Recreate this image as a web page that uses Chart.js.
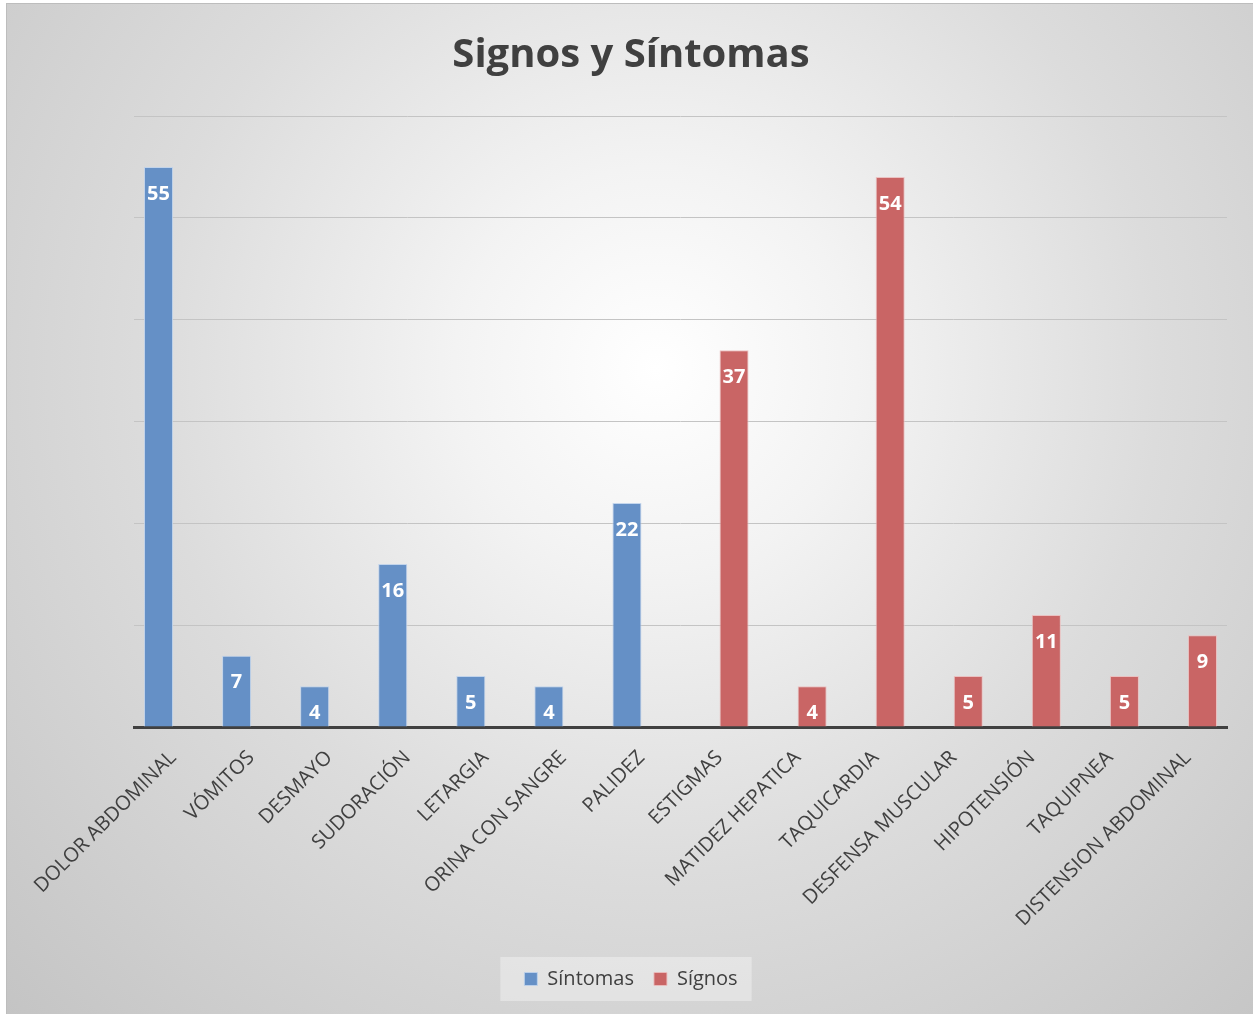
<!DOCTYPE html>
<html lang="es">
<head>
  <meta charset="UTF-8">
  <title>Signos y Síntomas</title>
  <style>
    body { margin: 0; background: #fff; font-family: 'Open Sans', sans-serif; }
    .marco {
      position: absolute; left: 6px; top: 3px; width: 1250px; height: 1014px;
      border: 1px solid #bdbdbd; box-sizing: border-box;
      background: radial-gradient(circle farthest-corner at 52% 36%, #ffffff 0%, #f3f3f3 22%, #dcdcdc 55%, #c4c4c4 100%);
    }
    canvas { display: block; }
  </style>
</head>
<body>
  <div class="marco">
    <canvas id="grafico" width="1248" height="1012"></canvas>
  </div>

  <script src="https://cdn.jsdelivr.net/npm/chart.js"></script>
  <script>
    // Datos
    const categorias = ['DOLOR ABDOMINAL', 'VÓMITOS', 'DESMAYO', 'SUDORACIÓN', 'LETARGIA', 'ORINA CON SANGRE', 'PALIDEZ',
      'ESTIGMAS', 'MATIDEZ HEPATICA', 'TAQUICARDIA', 'DESFENSA MUSCULAR', 'HIPOTENSIÓN', 'TAQUIPNEA', 'DISTENSION ABDOMINAL'];
    const sintomas = [55, 7, 4, 16, 5, 4, 22, null, null, null, null, null, null, null];
    const signos = [null, null, null, null, null, null, null, 37, 4, 54, 5, 11, 5, 9];

    const TEXTO = '#404040';

    // Etiquetas blancas dentro de las barras
    const etiquetasBarras = {
      id: 'etiquetasBarras',
      afterDatasetsDraw(chart) {
        const ctx = chart.ctx;
        ctx.save();
        ctx.fillStyle = '#ffffff';
        ctx.font = 'bold 20px "Open Sans"';
        ctx.textAlign = 'center';
        ctx.textBaseline = 'middle';
        chart.data.datasets.forEach((ds, i) => {
          chart.getDatasetMeta(i).data.forEach((bar, j) => {
            if (ds.data[j] == null) return;
            ctx.fillText(ds.data[j], bar.x, bar.y + 27);
          });
        });
        ctx.restore();
      }
    };

    // Caja clara detrás de la leyenda
    const fondoLeyenda = {
      id: 'fondoLeyenda',
      beforeDraw(chart) {
        const cajas = chart.legend && chart.legend.legendHitBoxes;
        if (!cajas || !cajas.length) return;
        const x0 = Math.min(...cajas.map(c => c.left)) - 24;
        const x1 = Math.max(...cajas.map(c => c.left + c.width)) + 14;
        const y0 = Math.min(...cajas.map(c => c.top)) - 12;
        const y1 = Math.max(...cajas.map(c => c.top + c.height)) + 12;
        const ctx = chart.ctx;
        ctx.save();
        ctx.fillStyle = 'rgba(255,255,255,0.35)';
        ctx.fillRect(x0, y0, x1 - x0, y1 - y0);
        ctx.restore();
      }
    };

    new Chart(document.getElementById('grafico'), {
      type: 'bar',
      data: {
        labels: categorias,
        datasets: [
          { label: 'Síntomas', data: sintomas, backgroundColor: '#6590c6', borderColor: 'rgba(190,210,235,0.9)', borderWidth: 1 },
          { label: 'Sígnos', data: signos, backgroundColor: '#c96565', borderColor: 'rgba(235,190,190,0.9)', borderWidth: 1 }
        ]
      },
      options: {
        responsive: false,
        animation: false,
        categoryPercentage: 0.744,
        barPercentage: 1,
        layout: { padding: { left: 28, right: 28, top: 0, bottom: 17 } },
        plugins: {
          title: {
            display: true,
            text: 'Signos y Síntomas',
            color: TEXTO,
            font: { family: 'Open Sans', size: 40, weight: 'bold' },
            padding: { top: 28, bottom: 36 }
          },
          legend: {
            position: 'bottom',
            labels: {
              color: TEXTO,
              font: { family: 'Open Sans', size: 20 },
              boxWidth: 13, boxHeight: 13,
              padding: 20
            }
          },
          tooltip: { enabled: false }
        },
        scales: {
          x: {
            grid: { display: false },
            border: { color: '#404040', width: 3 },
            ticks: {
              color: TEXTO,
              font: { family: 'Open Sans', size: 20 },
              maxRotation: 45, minRotation: 45,
              autoSkip: false, padding: 11
            },
            afterFit(scale) { scale.height = 222; }
          },
          y: {
            min: 0, max: 60,
            ticks: { display: false, stepSize: 10 },
            grid: { color: '#c4c4c4', drawTicks: false, lineWidth: 1 },
            border: { display: false },
            afterFit(scale) { scale.width = 99; }
          }
        }
      },
      plugins: [fondoLeyenda, etiquetasBarras]
    });
  </script>
</body>
</html>
